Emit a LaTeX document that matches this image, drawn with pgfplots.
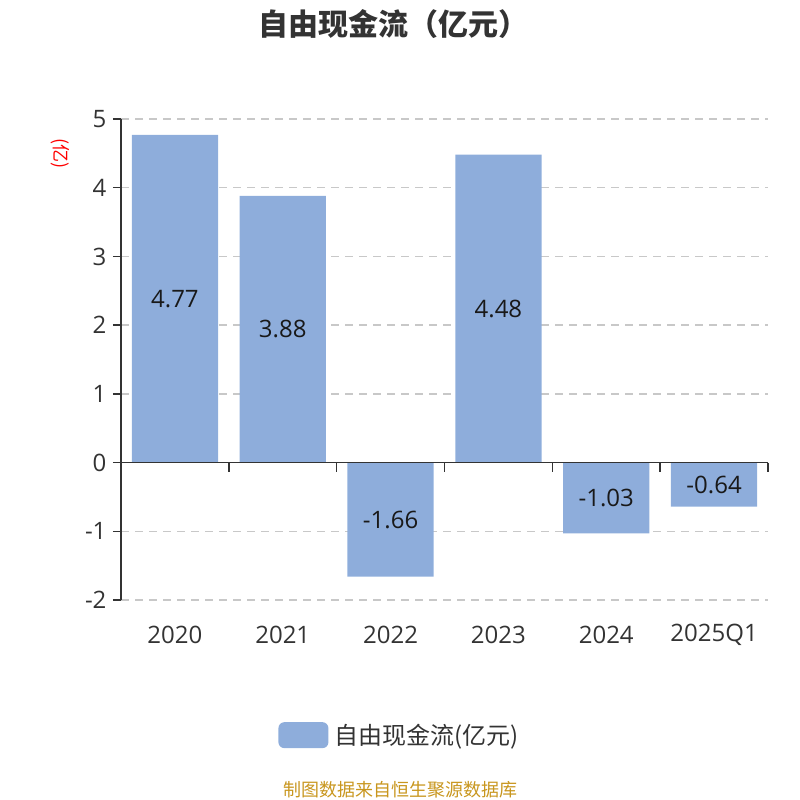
\documentclass[border=0pt]{standalone}
\usepackage{pgfplots}
\usepackage{pgfplotstable}
\pgfplotsset{compat=1.18}
\usepackage{fontspec}
\setmainfont{Open Sans}
\newfontfamily\cjk{Noto Sans CJK SC}

\definecolor{barblue}{HTML}{8EADDB}
\definecolor{axisgray}{HTML}{333333}
\definecolor{gridgray}{HTML}{C8C8C8}
\definecolor{footgold}{HTML}{C8961E}

\pgfplotstableread{
x v
0 4.77
1 3.88
2 -1.66
3 4.48
4 -1.03
5 -0.64
}\fcf

\begin{document}
\begin{tikzpicture}
\useasboundingbox (0,0) rectangle (800pt,800pt);
\begin{axis}[
    at={(121pt,200pt)}, anchor=south west,
    scale only axis,
    width=647pt, height=481pt,
    xmin=-0.5, xmax=5.5,
    ymin=-2, ymax=5,
    xtick={0,...,5},
    xticklabels={2020,2021,2022,2023,2024,2025Q1},
    ytick={-2,-1,...,5},
    axis x line*=bottom, axis y line*=left,
    x axis line style={draw=none},
    y axis line style={axisgray, line width=1.5pt, -},
    x tick style={draw=none},
    y tick style={axisgray, line width=1.5pt},
    major tick length=8pt,
    tick align=outside,
    ymajorgrids,
    grid style={gridgray, line width=1.4pt, dash pattern=on 8pt off 6pt},
    tick label style={font=\fontsize{24}{28}\selectfont, text=axisgray},
    xticklabel style={anchor=center, yshift=-27pt},
    yticklabel style={anchor=east, xshift=-3pt},
    /pgf/number format/assume math mode=true,
    legend style={at={(0.4305,-0.281)}, anchor=center, draw=none, fill=none,
        font=\cjk\fontsize{24}{28}\selectfont, text=axisgray,
        legend cell align=left, inner sep=0pt},
    clip=false,
]
\addplot[ybar, bar width=0.8, fill=barblue, draw=none,
    legend image code/.code={\fill[barblue, rounded corners=6pt] (0pt,-13pt) rectangle (50pt,13pt); \path (54pt,0pt);}]
    table[x=x, y=v] {\fcf};
\addlegendentry{自由现金流(亿元)}
\addplot[draw=none, forget plot, nodes near coords, point meta=explicit symbolic,
    every node near coord/.append style={anchor=center, font=\fontsize{24}{28}\selectfont, text=black!90}]
    table[x=x, y expr=\thisrow{v}/2, meta=v] {\fcf};
\draw[axisgray, line width=1.5pt] (axis cs:-0.5,0) -- (axis cs:5.5,0);
\pgfplotsinvokeforeach{0.5,1.5,2.5,3.5,4.5,5.5}{
    \draw[axisgray, line width=1.5pt] (axis cs:#1,0) -- ++(0pt,-9pt);
}
\end{axis}
\node[font=\cjk\bfseries\fontsize{30}{34}\selectfont, text=axisgray] at (393pt,776pt) {自由现金流（亿元）};
\node[font=\cjk\fontsize{18}{22}\selectfont, text=red, rotate=-90] at (60pt,646pt) {(亿)};
\node[font=\cjk\fontsize{18}{21}\selectfont, text=footgold] at (400pt,10pt) {制图数据来自恒生聚源数据库};
\end{tikzpicture}
\end{document}
